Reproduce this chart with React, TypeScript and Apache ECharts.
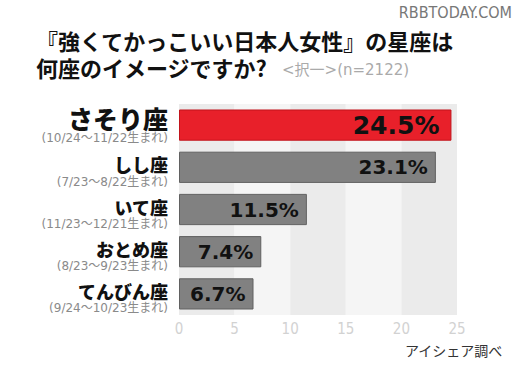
import React, { useEffect, useRef } from "react";
import * as echarts from "echarts";

const signs = ["さそり座", "しし座", "いて座", "おとめ座", "てんびん座"];
const births = [
  "(10/24～11/22生まれ)",
  "(7/23～8/22生まれ)",
  "(11/23～12/21生まれ)",
  "(8/23～9/23生まれ)",
  "(9/24～10/23生まれ)",
];
const percents = [24.5, 23.1, 11.5, 7.4, 6.7];
const xTicks = [0, 5, 10, 15, 20, 25];

const titleLine1 = "『強くてかっこいい日本人女性』の星座は";
const titleLine2 = "何座のイメージですか?";
const titleNote = "<択一>(n=2122)";
const source = "アイシェア調べ";
const site = "RBBTODAY.COM";

const JP = '"Noto Sans CJK JP", "Noto Sans", sans-serif';
const DV = '"DejaVu Sans", "Noto Sans CJK JP", sans-serif';

export default function App() {
  const ref = useRef<HTMLDivElement>(null);
  useEffect(() => {
    if (!ref.current) return;
    const chart = echarts.init(ref.current, undefined, { renderer: "svg" });
    chart.setOption({
      animation: false,
      backgroundColor: "#ffffff",
      grid: { left: 179, right: 62, top: 104, bottom: 66, containLabel: false },
      xAxis: {
        type: "value",
        min: xTicks[0],
        max: xTicks[xTicks.length - 1],
        interval: 5,
        axisLine: { show: false },
        axisTick: { show: false },
        splitLine: { show: false },
        splitArea: { show: true, areaStyle: { color: ["#ebebeb", "#f5f5f5"] } },
        axisLabel: {
          color: "#d2d2d2",
          fontSize: 15,
          fontFamily: '"Liberation Sans Narrow", "DejaVu Sans Condensed", sans-serif',
          margin: 6,
        },
      },
      yAxis: {
        type: "category",
        inverse: true,
        data: signs.map((s, i) => ({
          value: s,
          textStyle: { padding: i === 0 ? [0, 0, 0, 0] : [8, 0, 0, 0] },
        })),
        axisLine: { show: false },
        axisTick: { show: false },
        axisLabel: {
          margin: 11,
          align: "right",
          formatter: (v: string) => {
            const i = signs.indexOf(v);
            const key = i === 0 ? "big" : "name";
            return `{${key}|${v}}\n{sub|${births[i]}}`;
          },
          rich: {
            big: { fontSize: 25, fontWeight: 900, color: "#111", fontFamily: JP, lineHeight: 25, align: "right" },
            name: { fontSize: 18, fontWeight: 900, color: "#111", fontFamily: JP, lineHeight: 21, align: "right" },
            sub: { fontSize: 12, color: "#8a8a8a", fontFamily: DV, lineHeight: 14, align: "right" },
          },
        },
      },
      series: [
        {
          type: "bar",
          data: percents.map((v, i) =>
            i === 0
              ? {
                  value: v,
                  itemStyle: { color: "#e8202a", borderColor: "#c2141c", borderWidth: 1 },
                  label: { fontSize: 25, distance: 12 },
                }
              : {
                  value: v,
                  itemStyle: { color: "#818181", borderColor: "#616161", borderWidth: 1 },
                }
          ),
          barCategoryGap: "26%",
          label: {
            show: true,
            position: "insideRight",
            distance: 8,
            formatter: (p: any) => `${p.value}%`,
            fontSize: 20,
            fontWeight: "bold",
            color: "#111",
            fontFamily: '"DejaVu Sans", sans-serif',
          },
        },
      ],
      graphic: [
        {
          type: "text",
          left: 36,
          top: 28,
          style: { text: titleLine1, fill: "#111", font: `bold 22px ${JP}`, lineHeight: 24 },
        },
        {
          type: "text",
          left: 36,
          top: 55,
          style: { text: titleLine2, fill: "#111", font: `bold 22px ${JP}`, lineHeight: 24 },
        },
        {
          type: "text",
          left: 282,
          top: 62,
          style: { text: titleNote, fill: "#aaaaaa", font: `15px ${DV}` },
        },
        {
          type: "text",
          right: 7,
          top: 4,
          style: { text: site, fill: "#777777", font: `16px "DejaVu Sans Condensed", "Liberation Sans Narrow", sans-serif` },
        },
        {
          type: "text",
          right: 16,
          top: 343,
          style: { text: source, fill: "#333333", font: `14px ${JP}` },
        },
      ],
    });
    return () => chart.dispose();
  }, []);
  return <div ref={ref} style={{ width: 519, height: 381, position: "absolute", left: 0, top: 0 }} />;
}
